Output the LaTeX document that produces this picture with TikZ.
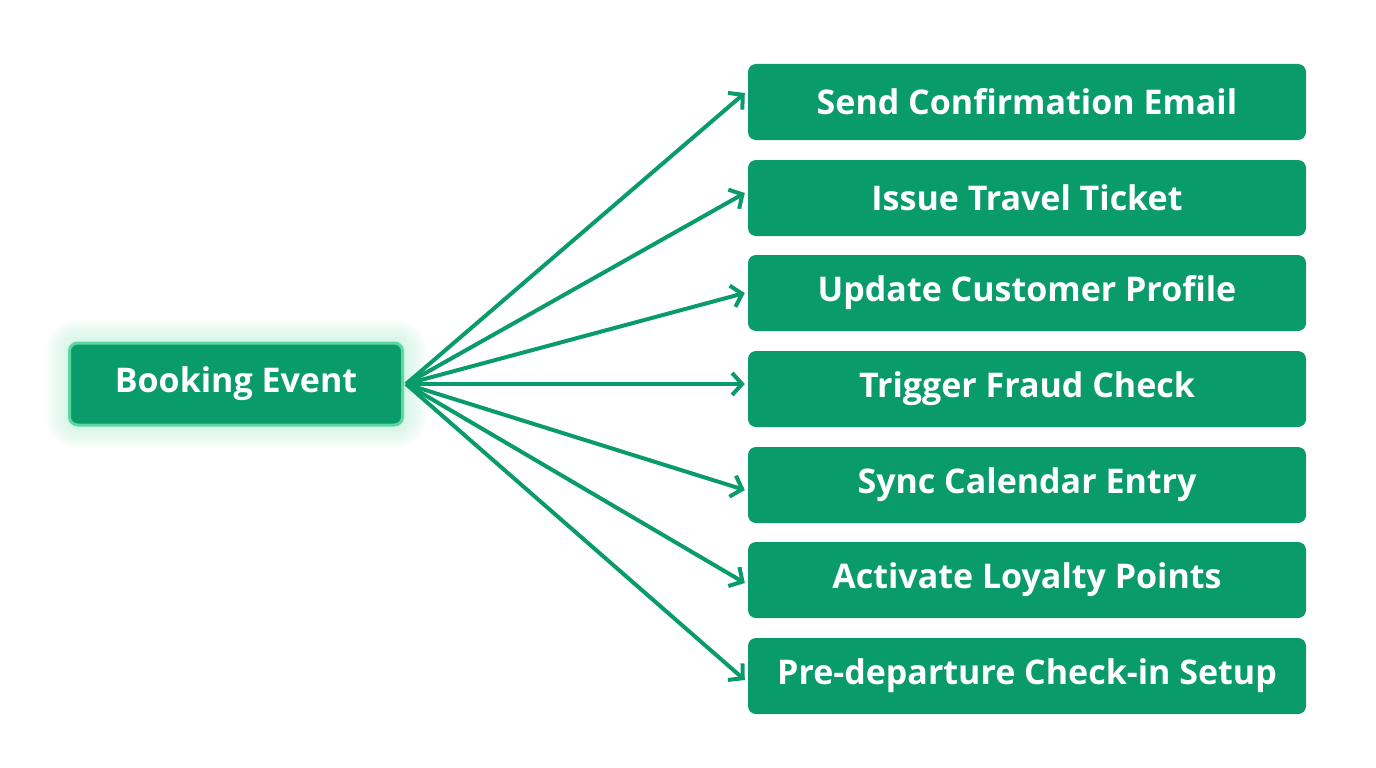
\documentclass[tikz,border=0pt]{standalone}
\usepackage{fontspec}
\setmainfont{Open Sans}
\usetikzlibrary{arrows.meta,positioning}
\definecolor{evgreen}{HTML}{0A9B6A}
\definecolor{glowgreen}{HTML}{5CD6A2}
\tikzset{
  task/.style={rectangle, rounded corners=8pt, fill=evgreen, text=white,
    minimum width=558pt, minimum height=76pt, font=\fontsize{34}{38}\selectfont\bfseries},
  source/.style={task, minimum width=333pt, minimum height=82pt,
    draw=glowgreen, line width=3pt},
  flow/.style={draw=evgreen, line width=4pt, -{Straight Barb[length=10pt,width=22pt,line width=4pt]}}
}
\begin{document}
\begin{tikzpicture}[x=1pt,y=-1pt]
\useasboundingbox (0,0) rectangle (1376,768);

% glow behind the event
\foreach \g in {2,4,...,24}
  \fill[glowgreen,opacity=0.025,rounded corners=8pt+\g pt]
    (70-\g,343-\g) rectangle (403+\g,425+\g);

\node[source] (event) at (236,384) {Booking Event};

\node[task] (email)   at (1027,102) {Send Confirmation Email};
\node[task] (ticket)  at (1027,198) {Issue Travel Ticket};
\node[task] (profile) at (1027,293) {Update Customer Profile};
\node[task] (fraud)   at (1027,389) {Trigger Fraud Check};
\node[task] (cal)     at (1027,485) {Sync Calendar Entry};
\node[task] (loyalty) at (1027,580) {Activate Loyalty Points};
\node[task] (checkin) at (1027,676) {Pre-departure Check-in Setup};

\coordinate (hub) at (406,384);
\foreach \t/\dy in {email/9,ticket/5,profile/0,fraud/5,cal/-5,loyalty/-3,checkin/-4}
  \draw[flow] (hub) -- ([xshift=-3pt,yshift=\dy pt]\t.west);

\end{tikzpicture}
\end{document}
